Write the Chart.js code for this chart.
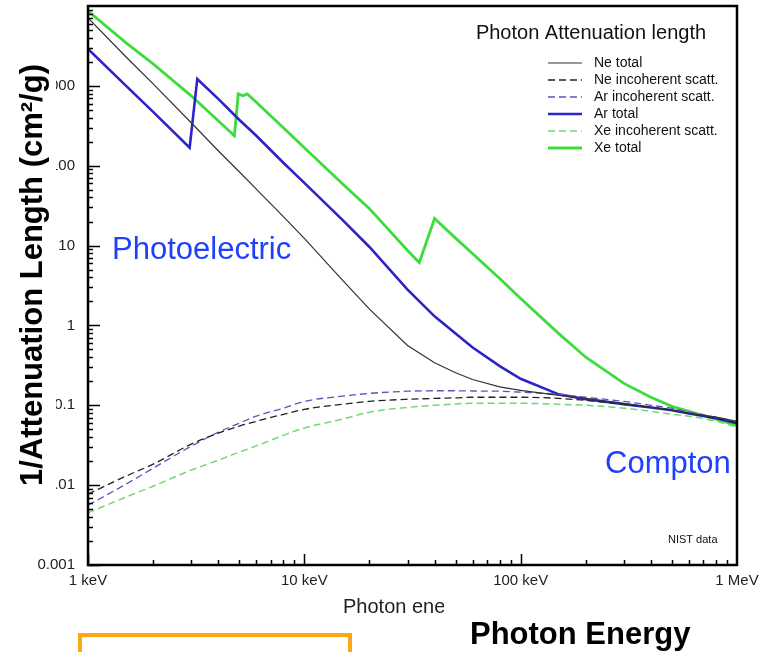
<!DOCTYPE html>
<html>
<head>
<meta charset="utf-8">
<script src="https://cdn.jsdelivr.net/npm/chart.js@4"></script>
<style>html,body{margin:0;padding:0;background:#fff}</style>
</head>
<body>
<canvas id="c" width="760" height="652"></canvas>
<script>
// photon energies in keV
var energy = [1, 1.5, 2, 3, 4, 5, 6, 8, 10, 15, 20, 30, 40, 50, 60, 80, 100, 150, 200, 300, 400, 500, 600, 800, 1000];
var energyAr = [1, 1.5, 2, 2.95, 3.2, 4, 5, 6, 8, 10, 15, 20, 30, 40, 50, 60, 80, 100, 150, 200, 300, 400, 500, 600, 800, 1000];
var energyXe = [1, 1.5, 2, 3, 4, 4.75, 4.95, 5.2, 5.45, 6, 8, 10, 15, 20, 30, 34, 40, 50, 60, 80, 100, 150, 200, 300, 400, 500, 600, 800, 1000];

// cm2/g
var neTotal = [7080, 2300, 1060, 345, 154, 84, 51, 23, 12.3, 3.7, 1.6, 0.56, 0.34, 0.255, 0.21, 0.17, 0.154, 0.133, 0.122, 0.106, 0.094, 0.0866, 0.079, 0.071, 0.063];
var neIncoh = [0.0077, 0.013, 0.0183, 0.0326, 0.0447, 0.0547, 0.063, 0.077, 0.089, 0.103, 0.112, 0.119, 0.122, 0.124, 0.126, 0.126, 0.126, 0.122, 0.115, 0.103, 0.094, 0.087, 0.079, 0.069, 0.060];
var arIncoh = [0.0056, 0.0103, 0.0163, 0.0307, 0.046, 0.0596, 0.073, 0.092, 0.112, 0.13, 0.141, 0.15, 0.152, 0.152, 0.151, 0.15, 0.146, 0.137, 0.126, 0.112, 0.1, 0.092, 0.082, 0.071, 0.062];
var arTotal = [2900, 1000, 473, 168, 1220, 688, 376, 237, 109, 61, 21, 9.6, 2.8, 1.3, 0.79, 0.53, 0.31, 0.215, 0.137, 0.119, 0.103, 0.094, 0.0866, 0.079, 0.069, 0.0596];
var xeIncoh = [0.0045, 0.0071, 0.0097, 0.0154, 0.0205, 0.0259, 0.031, 0.042, 0.052, 0.067, 0.082, 0.094, 0.1, 0.104, 0.106, 0.106, 0.106, 0.103, 0.1, 0.092, 0.084, 0.077, 0.073, 0.063, 0.053];
var xeTotal = [8660, 3450, 1880, 750, 365, 237, 794, 750, 794, 622, 298, 168, 59.6, 29, 8.66, 6.13, 21.8, 12.4, 7.9, 3.87, 2.18, 0.79, 0.40, 0.188, 0.126, 0.097, 0.084, 0.067, 0.056];

var xTicks = [1, 10, 100, 1000];
var xTickLabels = ['1 keV', '10 keV', '100 keV', '1 MeV'];
var yTicks = [0.001, 0.01, 0.1, 1, 10, 100, 1000];
var yTickLabels = ['0.001', '0.01', '0.1', '1', '10', '100', '1000'];

var FONT = '"Liberation Sans", Arial, Helvetica, sans-serif';

function pts(xs, ys) {
  return xs.map(function(x, i) { return {x: x, y: ys[i]} })
}

function series(label, xs, ys, color, width, dash) {
  var ds = {
    label: label,
    data: pts(xs, ys),
    borderColor: color,
    borderWidth: width,
    borderDash: dash || [],
    pointRadius: 0,
    fill: false,
    tension: 0
  }
  // the scattering curves are smooth, the totals have edges
  if (dash) ds.cubicInterpolationMode = 'monotone'
  return ds
}

function noPadding(s) {
  s.paddingTop = s.paddingBottom = s.paddingLeft = s.paddingRight = 0
}

// inward ticks, frame, legend and the free texts
var decor = {
  id: 'decor',
  afterDraw: function(chart) {
    var ctx = chart.ctx, a = chart.chartArea
    var xs = chart.scales.x, ys = chart.scales.y
    ctx.save()

    ctx.strokeStyle = '#000'
    ctx.lineWidth = 1.5
    ctx.beginPath()
    ;[1, 10, 100].forEach(function(d) {
      for (var k = 1; k < 10; k++) {
        var px = Math.round(xs.getPixelForValue(d * k)) + 0.5
        ctx.moveTo(px, a.bottom)
        ctx.lineTo(px, a.bottom - (k === 1 ? 11 : 5))
      }
    })
    ;[0.001, 0.01, 0.1, 1, 10, 100, 1000].forEach(function(d) {
      for (var k = 1; k < 10; k++) {
        var py = Math.round(ys.getPixelForValue(d * k)) + 0.5
        ctx.moveTo(a.left, py)
        ctx.lineTo(a.left + (k === 1 ? 12 : 5), py)
      }
    })
    ctx.stroke()

    ctx.lineWidth = 2.5
    ctx.strokeRect(a.left, a.top, a.right - a.left, a.bottom - a.top)

    // legend
    ctx.fillStyle = '#111'
    ctx.font = '20px ' + FONT
    ctx.textAlign = 'center'
    ctx.textBaseline = 'alphabetic'
    ctx.fillText('Photon Attenuation length', 591, 39)
    ctx.font = '14px ' + FONT
    ctx.textAlign = 'left'
    ctx.textBaseline = 'middle'
    chart.data.datasets.forEach(function(ds, i) {
      var y = 63 + i * 17
      ctx.strokeStyle = ds.borderColor
      ctx.lineWidth = ds.borderWidth
      ctx.setLineDash(ds.borderDash)
      ctx.beginPath()
      ctx.moveTo(548, y)
      ctx.lineTo(582, y)
      ctx.stroke()
      ctx.setLineDash([])
      ctx.fillText(ds.label, 594, y)
    })

    ctx.font = '11px ' + FONT
    ctx.textBaseline = 'alphabetic'
    ctx.fillText('NIST data', 668, 543)

    ctx.fillStyle = '#2040ff'
    ctx.font = '31px ' + FONT
    ctx.fillText('Photoelectric', 112, 259)
    ctx.fillText('Compton', 605, 473)

    // small axis title, partly covered by the large one
    ctx.fillStyle = '#222'
    ctx.font = '20px ' + FONT
    ctx.fillText('Photon energy', 343, 613)
    ctx.fillStyle = '#fff'
    ctx.fillRect(444, 596, 316, 56)
    ctx.fillRect(0, 35, 56, 462)

    ctx.fillStyle = '#000'
    ctx.font = 'bold 31px ' + FONT
    ctx.fillText('Photon Energy', 470, 644)

    ctx.save()
    ctx.translate(42, 275)
    ctx.rotate(-Math.PI / 2)
    ctx.textAlign = 'center'
    ctx.font = 'bold 31px ' + FONT
    ctx.fillText('1/Attenuation Length (cm\u00b2/g)', 0, 0)
    ctx.restore()

    ctx.strokeStyle = '#ffa614'
    ctx.lineWidth = 4
    ctx.strokeRect(80, 635, 270, 40)

    ctx.restore()
  }
}

new Chart(document.getElementById('c'), {
  type: 'line',
  data: {
    datasets: [
      series('Ne total', energy, neTotal, '#333333', 1.2),
      series('Ne incoherent scatt.', energy, neIncoh, '#222222', 1.3, [7, 4]),
      series('Ar incoherent scatt.', energy, arIncoh, '#5a55bf', 1.3, [7, 4]),
      series('Ar total', energyAr, arTotal, '#2b24c8', 2.6),
      series('Xe incoherent scatt.', energy, xeIncoh, '#73d873', 1.5, [7, 4]),
      series('Xe total', energyXe, xeTotal, '#3ddc3d', 2.8)
    ]
  },
  options: {
    responsive: false,
    animation: false,
    layout: {padding: {left: 0, right: 23, top: 6, bottom: 0}},
    plugins: {legend: {display: false}, tooltip: {enabled: false}},
    scales: {
      x: {
        type: 'logarithmic',
        min: 1,
        max: 1000,
        afterFit: function(s) { s.height = 87; noPadding(s) },
        afterBuildTicks: function(s) { s.ticks = xTicks.map(function(v) { return {value: v} }) },
        grid: {display: false, drawTicks: false},
        border: {display: false},
        ticks: {
          autoSkip: false,
          maxRotation: 0,
          padding: 7,
          color: '#222',
          font: {family: FONT, size: 15},
          callback: function(v, i) { return xTickLabels[i] }
        }
      },
      y: {
        type: 'logarithmic',
        min: 0.001,
        max: 10000,
        afterFit: function(s) { s.width = 88; noPadding(s) },
        afterBuildTicks: function(s) { s.ticks = yTicks.map(function(v) { return {value: v} }) },
        grid: {display: false, drawTicks: false},
        border: {display: false},
        ticks: {
          autoSkip: false,
          padding: 13,
          color: '#222',
          font: {family: FONT, size: 15},
          callback: function(v, i) { return yTickLabels[i] }
        }
      }
    }
  },
  plugins: [decor]
})
</script>
</body>
</html>
